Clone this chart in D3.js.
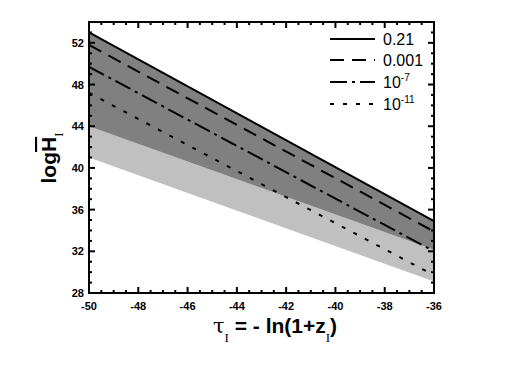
<!DOCTYPE html>
<html>
<head>
<meta charset="utf-8">
<script src="https://cdn.jsdelivr.net/npm/d3@7"></script>
<style>
  body { margin: 0; background: #fff; }
  text { font-family: "Liberation Sans", Arial, sans-serif; }
</style>
</head>
<body>
<div id="chart"></div>
<script>
// data
const tauRange = [-50, -36];
const seriesNames = ["0.21", "0.001", "10^-7", "10^-11"];
const seriesStart = [53.0, 51.8, 49.7, 47.2];
const seriesEnd = [34.9, 33.9, 32.0, 29.7];
const bandTop = [44.0, 32.15];
const bandBottom = [41.0, 29.1];
const xTicks = [-50, -48, -46, -44, -42, -40, -38, -36];
const yTicks = [28, 32, 36, 40, 44, 48, 52];

const width = 505, height = 378;
const margin = { left: 89, right: 71, top: 22, bottom: 85 };

const svg = d3.select("#chart").append("svg").attr("width", width).attr("height", height);

const x = d3.scaleLinear().domain(tauRange).range([margin.left, width - margin.right]);
const y = d3.scaleLinear().domain([28, 54]).range([height - margin.bottom, margin.top]);

const line = d3.line().x(d => x(d[0])).y(d => y(d[1]));

// light band
const lightPoly = [[tauRange[0], bandTop[0]], [tauRange[1], bandTop[1]], [tauRange[1], bandBottom[1]], [tauRange[0], bandBottom[0]]];
svg.append("path").attr("d", line(lightPoly) + "Z").attr("fill", "#c0c0c0");

// dark band between solid line and light band
const darkPoly = [[tauRange[0], seriesStart[0]], [tauRange[1], seriesEnd[0]], [tauRange[1], bandTop[1]], [tauRange[0], bandTop[0]]];
svg.append("path").attr("d", line(darkPoly) + "Z").attr("fill", "#808080");

const dashes = [null, "14,8", "17,5,3,5", "4,9"];

seriesNames.forEach((name, i) => {
    svg.append("path")
        .attr("d", line([[tauRange[0], seriesStart[i]], [tauRange[1], seriesEnd[i]]]))
        .attr("fill", "none").attr("stroke", "#000").attr("stroke-width", 2)
        .attr("stroke-dasharray", dashes[i]);
});

// axes with inward ticks on all four sides
const x0 = margin.left, x1 = width - margin.right, y0 = height - margin.bottom, y1 = margin.top;
const axisG = svg.append("g");

const xMinor = d3.range(-50, -35.9, 0.5);
const yMinor = d3.range(28, 54.01, 1);

xMinor.forEach(v => {
    const major = Math.abs(v % 2) < 1e-9;
    const len = major ? 6 : 3;
    axisG.append("line").attr("x1", x(v)).attr("x2", x(v)).attr("y1", y0).attr("y2", y0 - len).attr("stroke", "#000").attr("stroke-width", 2);
    axisG.append("line").attr("x1", x(v)).attr("x2", x(v)).attr("y1", y1).attr("y2", y1 + len).attr("stroke", "#000").attr("stroke-width", 2);
});
yMinor.forEach(v => {
    const major = v % 4 === 0;
    const len = major ? 6 : 3;
    axisG.append("line").attr("x1", x0).attr("x2", x0 + len).attr("y1", y(v)).attr("y2", y(v)).attr("stroke", "#000").attr("stroke-width", 2);
    axisG.append("line").attr("x1", x1).attr("x2", x1 - len).attr("y1", y(v)).attr("y2", y(v)).attr("stroke", "#000").attr("stroke-width", 2);
});

axisG.append("rect").attr("x", x0).attr("y", y1).attr("width", x1 - x0).attr("height", y0 - y1)
    .attr("fill", "none").attr("stroke", "#000").attr("stroke-width", 2);

svg.selectAll(".xlab").data(xTicks).join("text")
    .attr("x", d => x(d)).attr("y", y0 + 17)
    .attr("text-anchor", "middle").style("font-size", "11px").style("font-weight", "700")
    .text(d => d);

svg.selectAll(".ylab").data(yTicks).join("text")
    .attr("x", x0 - 5).attr("y", d => y(d) + 4)
    .attr("text-anchor", "end").style("font-size", "11px").style("font-weight", "700")
    .text(d => d);

// legend
const legendY = [39, 60, 82, 104];
seriesNames.forEach((name, i) => {
    svg.append("line").attr("x1", 330).attr("x2", 375).attr("y1", legendY[i]).attr("y2", legendY[i])
        .attr("stroke", "#000").attr("stroke-width", 2).attr("stroke-dasharray", dashes[i]);
    const t = svg.append("text").attr("x", 383).attr("y", legendY[i] + 6).style("font-size", "16px");
    if (name.includes("^")) {
        const [base, exp] = name.split("^");
        t.append("tspan").text(base);
        t.append("tspan").attr("dy", -7).style("font-size", "10px").text(exp);
    } else {
        t.text(name);
    }
});

// x title
const xt = svg.append("text").attr("x", 275).attr("y", 333).attr("text-anchor", "middle")
    .style("font-size", "21px").style("font-weight", "700");
xt.append("tspan").style("font-family", "DejaVu Serif, serif").style("font-weight", "400").text("τ");
xt.append("tspan").attr("dy", 9).style("font-size", "13px").style("font-family", "Liberation Serif, serif").style("font-weight", "400").text("I");
xt.append("tspan").attr("dy", -9).text(" = - ln(1+z");
xt.append("tspan").attr("dy", 9).style("font-size", "13px").style("font-family", "Liberation Serif, serif").style("font-weight", "400").text("I");
xt.append("tspan").attr("dy", -9).text(")");

// y title
const yt = svg.append("text").attr("transform", "translate(56,158) rotate(-90)").attr("text-anchor", "middle")
    .style("font-size", "21px").style("font-weight", "700");
yt.append("tspan").text("log");
yt.append("tspan").style("text-decoration", "overline").text("H");
yt.append("tspan").attr("dy", 7).style("font-size", "13px").style("font-family", "Liberation Serif, serif").style("font-weight", "400").text("I");
</script>
</body>
</html>
